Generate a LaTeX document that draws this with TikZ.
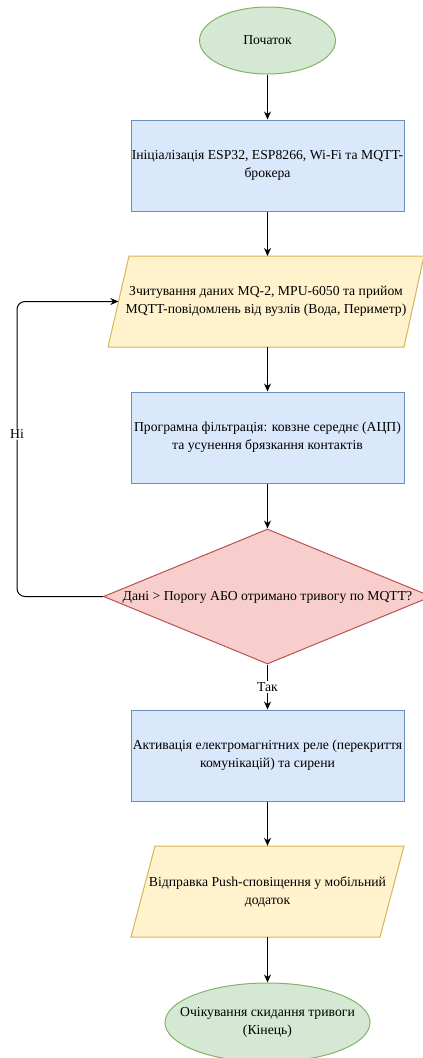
\documentclass[tikz,border=0pt]{standalone}
\usepackage{fontspec}
\setmainfont{Liberation Serif}
\usetikzlibrary{shapes.geometric,arrows.meta}
\definecolor{bfill}{HTML}{DAE8FC}\definecolor{bline}{HTML}{6C8EBF}
\definecolor{yfill}{HTML}{FFF2CC}\definecolor{yline}{HTML}{D6B656}
\definecolor{rfill}{HTML}{F8CECC}\definecolor{rline}{HTML}{B85450}
\definecolor{gfill}{HTML}{D5E8D4}\definecolor{gline}{HTML}{82B366}
\tikzset{
  txt/.style={font=\fontsize{13.7}{18}\selectfont, align=center, inner sep=0pt},
  procbox/.style={txt, rectangle, draw=bline, fill=bfill, line width=1pt, minimum width=273pt, minimum height=91pt},
  termin/.style={txt, ellipse, draw=gline, fill=gfill, line width=1pt},
  decis/.style={txt, diamond, draw=rline, fill=rfill, line width=1pt, minimum width=328pt, minimum height=135pt, aspect=2.43},
  iobox/.style={txt, rectangle, minimum height=91pt},
  flow/.style={-{Stealth[length=8pt,width=7pt]}, line width=1pt, black},
  lbl/.style={font=\fontsize{13.7}{16}\selectfont, fill=white, inner sep=1pt}
}
\begin{document}
\begin{tikzpicture}[x=1pt,y=-1pt]
\useasboundingbox (0,0) rectangle (423,1058);
% start
\node[termin, minimum width=136pt, minimum height=67pt] (start) at (267.5,40.5) {Початок};
% init
\node[procbox] (init) at (267.5,165.5) {Ініціалізація ESP32, ESP8266, Wi-Fi та MQTT-\\брокера};
% parallelogram 1
\fill[yfill] (129,256) -- (424,256) -- (404,347) -- (108,347) -- cycle;
\draw[yline, line width=1pt] (129,256) -- (424,256) -- (404,347) -- (108,347) -- cycle;
\node[iobox, minimum width=316pt] (read) at (266,301.5) {Зчитування даних MQ-2, MPU-6050 та прийом\\MQTT-повідомлень від вузлів (Вода, Периметр)};
\coordinate (readin) at (118.4,301.5);
% filter
\node[procbox] (filt) at (267.5,437.5) {Програмна фільтрація: ковзне середнє (АЦП)\\та усунення брязкання контактів};
% decision
\node[decis] (dec) at (267.5,596.5) {};
\node[txt] (dectxt) at (267.5,597) {Дані > Порогу АБО отримано тривогу по MQTT?};
% activation
\node[procbox] (act) at (267.5,755.5) {Активація електромагнітних реле (перекриття\\комунікацій) та сирени};
% parallelogram 2
\fill[yfill] (155,846) -- (404,846) -- (380,937) -- (131,937) -- cycle;
\draw[yline, line width=1pt] (155,846) -- (404,846) -- (380,937) -- (131,937) -- cycle;
\node[iobox, minimum width=273pt] (push) at (267.5,891.5) {Відправка Push-сповіщення у мобільний\\додаток};
% end
\node[termin, minimum width=205pt, minimum height=79pt] (fin) at (267.5,1022.5) {};
\node[txt] (fintxt) at (267.5,1022.5) {Очікування скидання тривоги\\(Кінець)};
% arrows
\draw[flow] (start.south) -- (init.north);
\draw[flow] (init.south) -- (267.5,256);
\draw[flow] (267.5,347) -- (filt.north);
\draw[flow] (filt.south) -- (dec.north);
\draw[flow] (dec.south) -- node[lbl] (tak) {Так} (act.north);
\draw[flow] (act.south) -- (push.north);
\draw[flow] (push.south) -- (fin.north);
\draw[flow, rounded corners=8pt] (dec.west) -- (17,596.5) -- node[lbl, pos=0.55] (ni) {Ні} (17,301.5) -- (readin);
\end{tikzpicture}
\end{document}
